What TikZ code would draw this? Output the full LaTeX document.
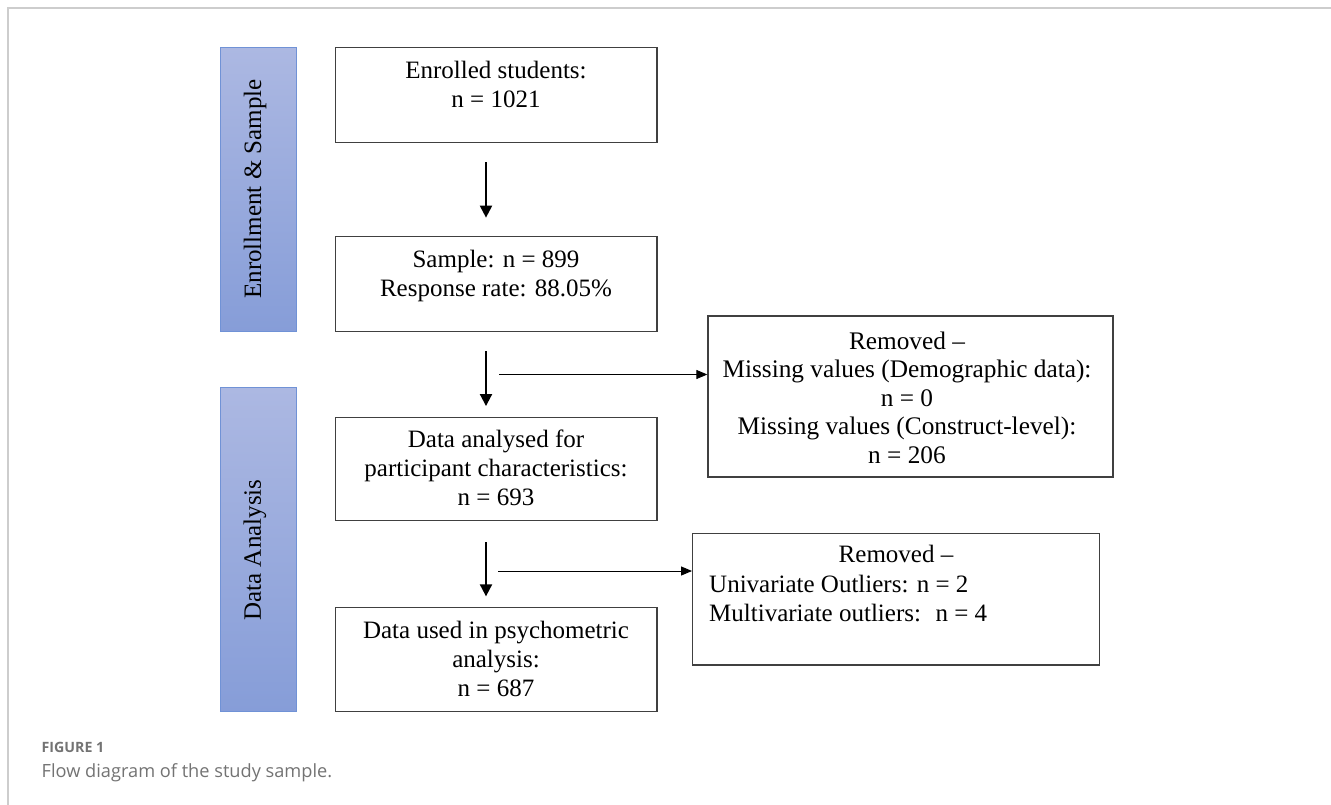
\documentclass[tikz,border=0pt]{standalone}
\usepackage{fontspec}
\setmainfont{Liberation Serif}
\newfontfamily\capfont{Open Sans}
\usetikzlibrary{arrows.meta}
\definecolor{lanetop}{RGB}{172,184,226}
\definecolor{lanebot}{RGB}{134,157,216}
\definecolor{laneedge}{RGB}{112,146,214}
\definecolor{boxedge}{RGB}{64,64,64}
\definecolor{framegray}{RGB}{205,205,205}
\definecolor{capgray}{RGB}{115,115,115}
\tikzset{
  flowbox/.style={draw=boxedge, line width=1.3pt, inner sep=0pt, fill=white},
  lanebox/.style={draw=laneedge, line width=1pt, inner sep=0pt, top color=lanetop, bottom color=lanebot},
  lanelabel/.style={rotate=90, inner sep=0pt, font=\fontsize{25}{29}\selectfont},
  boxtext/.style={inner sep=0pt, align=center, anchor=north, font=\fontsize{25}{29}\selectfont},
  removedtext/.style={inner sep=0pt, align=center, anchor=north, font=\fontsize{25.3}{28.5}\selectfont},
  leftlist/.style={inner sep=0pt, align=left, anchor=north west, font=\fontsize{25}{29}\selectfont},
  varrow/.style={line width=2pt, -{Triangle[length=12pt,width=12pt]}},
  harrow/.style={line width=1pt, -{Triangle[length=11pt,width=9pt]}},
  framest/.style={draw=framegray, line width=1.6pt},
}
\begin{document}
\begin{tikzpicture}[x=1pt,y=-1pt]
\useasboundingbox (0,0) rectangle (1331,805);
\draw[framest] (8,805) -- (8,8) -- (1331,8);

% lanes
\node[lanebox, minimum width=75.5pt, minimum height=284.5pt] (L1) at (258.5,189.5) {};
\node[lanelabel] (L1t) at (255,189) {Enrollment \& Sample};
\node[lanebox, minimum width=75.5pt, minimum height=323.7pt] (L2) at (258.5,549.8) {};
\node[lanelabel] (L2t) at (255,550) {Data Analysis};

% main boxes
\node[flowbox, minimum width=321.7pt, minimum height=95pt] (A) at (496,94.8) {};
\node[boxtext] (At) at (496,58) {\strut Enrolled students:\\ n = 1021};
\node[flowbox, minimum width=321.7pt, minimum height=95pt] (B) at (496,284.2) {};
\node[boxtext] (Bt) at (496,247) {\strut Sample: n = 899\\ Response rate: 88.05\%};
\node[flowbox, minimum width=321.7pt, minimum height=103.4pt] (C) at (496,469) {};
\node[boxtext] (Ct) at (496,427) {\strut Data analysed for\\ participant characteristics:\\ n = 693};
\node[flowbox, minimum width=321.7pt, minimum height=104.4pt] (D) at (496,659.5) {};
\node[boxtext] (Dt) at (496,618) {\strut Data used in psychometric\\ analysis:\\ n = 687};

% side boxes
\node[flowbox, minimum width=405pt, minimum height=161pt] (E) at (910.5,396.5) {};
\node[removedtext] (Et) at (907,329) {\strut Removed –\\ Missing values (Demographic data):\\ n = 0\\ Missing values (Construct-level):\\ n = 206};
\node[flowbox, minimum width=406.6pt, minimum height=131.7pt] (F) at (896,599.2) {};
\node[boxtext] (Ft1) at (896,542) {\strut Removed –};
\node[leftlist] (Ft2) at (709,572.4) {\strut Univariate Outliers: n = 2\\ Multivariate outliers:~ n = 4};

% vertical arrows
\draw[varrow, shorten <=19.5pt, shorten >=18.4pt] ([xshift=-10pt]A.south) -- ([xshift=-10pt]B.north);
\draw[varrow, shorten <=19pt, shorten >=10.6pt] ([xshift=-10pt]B.south) -- ([xshift=-10pt]C.north);
\draw[varrow, shorten <=21pt, shorten >=10.3pt] ([xshift=-10pt]C.south) -- ([xshift=-10pt]D.north);

% horizontal arrows
\coordinate (h1) at (499,374.5);
\draw[harrow] (h1) -- (h1 -| E.west);
\coordinate (h2) at (498,571);
\draw[harrow] (h2) -- (h2 -| F.west);

% caption
\node[anchor=base west, inner sep=0pt, text=capgray, font=\capfont\bfseries\fontsize{14.2}{16}\selectfont] (fig) at (41.5,752.5) {FIGURE 1};
\node[anchor=base west, inner sep=0pt, text=capgray, font=\capfont\fontsize{18.2}{21}\selectfont] (cap) at (41.5,777.5) {Flow diagram of the study sample.};
\end{tikzpicture}
\end{document}
